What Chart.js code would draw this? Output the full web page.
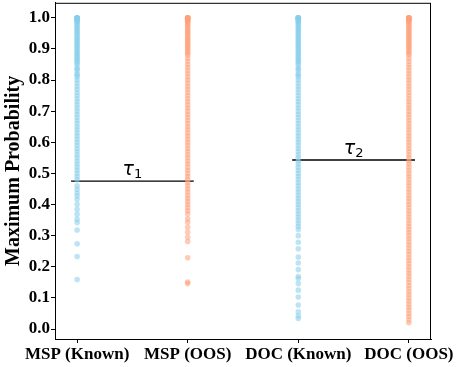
<!DOCTYPE html>
<html>
<head>
<meta charset="utf-8">
<script src="https://cdn.jsdelivr.net/npm/chart.js@4"></script>
<style>
  html, body { margin: 0; padding: 0; background: #fff; }
  #wrap { width: 456px; height: 367px; }
</style>
</head>
<body>
<div id="wrap"><canvas id="chart" width="456" height="367"></canvas></div>
<script>
// categories and tick labels
const categories = ['MSP (Known)', 'MSP (OOS)', 'DOC (Known)', 'DOC (OOS)'];
const yTicks = [0.0, 0.1, 0.2, 0.3, 0.4, 0.5, 0.6, 0.7, 0.8, 0.9, 1.0];

// maximum probability per sample
const mspKnown = [1.0, 1.0, 1.0, 1.0, 0.999, 0.998, 0.997, 0.995, 0.993, 0.99, 0.988, 0.985, 0.98, 0.975,
  0.97, 0.965, 0.96, 0.955, 0.95, 0.945, 0.94, 0.935, 0.93, 0.925, 0.92, 0.915, 0.91, 0.905, 0.90,
  0.895, 0.89, 0.885, 0.88, 0.875, 0.87, 0.865, 0.86, 0.855, 0.85, 0.84, 0.835, 0.83, 0.82, 0.815,
  0.81, 0.80, 0.79, 0.78, 0.77, 0.76, 0.75, 0.74, 0.73, 0.72, 0.71, 0.70, 0.69, 0.68,
  0.67, 0.66, 0.65, 0.64, 0.63, 0.62, 0.61, 0.60, 0.59, 0.58, 0.57, 0.56, 0.55, 0.54, 0.53, 0.52,
  0.51, 0.50, 0.49, 0.48, 0.46, 0.449, 0.438, 0.428, 0.417, 0.401, 0.385, 0.369, 0.353, 0.342,
  0.318, 0.274, 0.233, 0.159];
const mspOos = [1.0, 1.0, 1.0, 1.0, 0.999, 0.998, 0.997, 0.995, 0.993, 0.99, 0.988, 0.985, 0.98, 0.975,
  0.97, 0.965, 0.96, 0.955, 0.95, 0.945, 0.94, 0.935, 0.93, 0.925, 0.92, 0.915, 0.91, 0.905, 0.90,
  0.895, 0.89, 0.885, 0.88, 0.87, 0.86, 0.85, 0.84,
  0.83, 0.82, 0.81, 0.80, 0.79, 0.78, 0.77, 0.76, 0.75, 0.74, 0.73, 0.72, 0.71, 0.70, 0.69, 0.68,
  0.67, 0.66, 0.65, 0.64, 0.63, 0.62, 0.61, 0.60, 0.59, 0.58, 0.57, 0.56, 0.55, 0.54, 0.53, 0.52,
  0.51, 0.50, 0.49, 0.48, 0.47, 0.46, 0.45, 0.44, 0.43, 0.42, 0.41, 0.40, 0.39, 0.38, 0.37, 0.354,
  0.343, 0.327, 0.311, 0.295, 0.281, 0.229, 0.151, 0.146];
const docKnown = [1.0, 1.0, 1.0, 1.0, 0.999, 0.998, 0.997, 0.995, 0.993, 0.99, 0.988, 0.985, 0.98, 0.975,
  0.97, 0.965, 0.96, 0.955, 0.95, 0.945, 0.94, 0.935, 0.93, 0.925, 0.92, 0.915, 0.91, 0.905, 0.90,
  0.895, 0.89, 0.885, 0.88, 0.875, 0.87, 0.865, 0.86, 0.855, 0.85, 0.84, 0.835, 0.83, 0.82, 0.815,
  0.81, 0.80, 0.79, 0.78, 0.77, 0.76, 0.75, 0.74, 0.73, 0.72, 0.71, 0.70, 0.69, 0.68,
  0.67, 0.66, 0.65, 0.64, 0.63, 0.62, 0.61, 0.60, 0.59, 0.58, 0.57, 0.56, 0.55, 0.54, 0.53, 0.52,
  0.51, 0.50, 0.49, 0.48, 0.47, 0.46, 0.45, 0.44, 0.43, 0.42, 0.41, 0.40, 0.39, 0.38, 0.37, 0.36,
  0.35, 0.34, 0.33, 0.32, 0.30, 0.279, 0.258, 0.231, 0.212, 0.191, 0.169, 0.162, 0.146, 0.125,
  0.103, 0.077, 0.055, 0.042, 0.034];
const docOos = [1.0, 1.0, 1.0, 1.0, 0.999, 0.998, 0.997, 0.995, 0.993, 0.99, 0.988, 0.985, 0.98, 0.975,
  0.97, 0.965, 0.96, 0.955, 0.95, 0.945, 0.94, 0.935, 0.93, 0.925, 0.92, 0.915, 0.91, 0.905, 0.90,
  0.895, 0.89, 0.885, 0.88, 0.87, 0.86, 0.85, 0.84,
  0.83, 0.82, 0.81, 0.80, 0.79, 0.78, 0.77, 0.76, 0.75, 0.74, 0.73, 0.72, 0.71, 0.70, 0.69, 0.68,
  0.67, 0.66, 0.65, 0.64, 0.63, 0.62, 0.61, 0.60, 0.59, 0.58, 0.57, 0.56, 0.55, 0.54, 0.53, 0.52,
  0.51, 0.50, 0.49, 0.48, 0.47, 0.46, 0.45, 0.44, 0.43, 0.42, 0.41, 0.40, 0.39, 0.38, 0.37, 0.36,
  0.35, 0.34, 0.33, 0.32, 0.31, 0.30, 0.29, 0.28, 0.27, 0.26, 0.25, 0.24, 0.23, 0.22, 0.21, 0.20,
  0.19, 0.18, 0.17, 0.16, 0.15, 0.14, 0.13, 0.12, 0.11, 0.10, 0.09, 0.08, 0.07, 0.06, 0.05, 0.04,
  0.03, 0.02];

// thresholds: value and the x span of each line
const thresholds = [0.475, 0.543];
const thresholdSpans = [[-0.055, 1.055], [1.945, 3.055]];
const thresholdLabels = ['τ', 'τ'];
const thresholdSubs = ['1', '2'];

const BLUE = 'rgba(135, 206, 235, 0.55)';
const SALMON = 'rgba(255, 160, 122, 0.55)';
const FONT = '"Liberation Serif", "Times New Roman", serif';

function column(values, xi) {
    return values.map(v => ({ x: xi, y: v }));
}

function scatterSet(values, xi, color) {
    return {
        type: 'scatter',
        data: column(values, xi),
        pointRadius: 2.8,
        pointBackgroundColor: color,
        pointBorderWidth: 0,
        pointHoverRadius: 2.8
    };
}

const lineSets = thresholds.map((t, i) => ({
    type: 'line',
    data: thresholdSpans[i].map(x => ({ x: x, y: t })),
    borderColor: '#000',
    borderWidth: 1.3,
    pointRadius: 0,
    fill: false
}));

// box around the plot + tau labels
const boxPlugin = {
    id: 'boxPlugin',
    afterDraw(chart) {
        const { ctx, chartArea, scales } = chart;
        ctx.save();
        ctx.strokeStyle = '#000';
        ctx.lineWidth = 1;
        ctx.strokeRect(chartArea.left + 0.5, chartArea.top + 0.5,
            chartArea.right - chartArea.left - 1, chartArea.bottom - chartArea.top);

        thresholds.forEach((t, i) => {
            const span = thresholdSpans[i];
            const cx = scales.x.getPixelForValue((span[0] + span[1]) / 2);
            const y = scales.y.getPixelForValue(t) - 6;
            ctx.fillStyle = '#000';
            ctx.textBaseline = 'alphabetic';
            ctx.textAlign = 'left';
            ctx.font = 'italic 19px "DejaVu Sans"';
            const w1 = ctx.measureText(thresholdLabels[i]).width;
            ctx.font = '13px "DejaVu Sans"';
            const w2 = ctx.measureText(thresholdSubs[i]).width;
            const x0 = cx - (w1 + w2) / 2;
            ctx.font = 'italic 19px "DejaVu Sans"';
            ctx.fillText(thresholdLabels[i], x0, y);
            ctx.font = '13px "DejaVu Sans"';
            ctx.fillText(thresholdSubs[i], x0 + w1, y + 3);
        });
        ctx.restore();
    }
};

new Chart(document.getElementById('chart').getContext('2d'), {
    data: {
        datasets: [
            scatterSet(mspKnown, 0, BLUE),
            scatterSet(mspOos, 1, SALMON),
            scatterSet(docKnown, 2, BLUE),
            scatterSet(docOos, 3, SALMON),
            ...lineSets
        ]
    },
    options: {
        responsive: false,
        animation: false,
        layout: { padding: { top: 1, right: 25, left: 0, bottom: 0 } },
        plugins: {
            legend: { display: false },
            tooltip: { enabled: false }
        },
        scales: {
            x: {
                type: 'linear',
                min: -0.2,
                max: 3.2,
                afterBuildTicks: (scale) => {
                    scale.ticks = categories.map((c, i) => ({ value: i }));
                },
                afterFit: (scale) => { scale.height = 28; },
                ticks: {
                    callback: (v) => categories[v],
                    color: '#000',
                    padding: 1,
                    maxRotation: 0,
                    autoSkip: false,
                    font: { family: FONT, size: 17, weight: 'bold' }
                },
                grid: {
                    drawOnChartArea: false,
                    drawTicks: true,
                    tickLength: 4,
                    tickColor: '#000'
                },
                border: { display: true, color: '#000', width: 1 }
            },
            y: {
                min: -0.032,
                max: 1.048,
                afterBuildTicks: (scale) => {
                    scale.ticks = yTicks.map(v => ({ value: v }));
                },
                afterFit: (scale) => {
                    scale.width = 55;
                    scale.paddingTop = 0;
                    scale.paddingBottom = 0;
                },
                ticks: {
                    callback: (v) => v.toFixed(1),
                    color: '#000',
                    padding: 1,
                    font: { family: FONT, size: 17, weight: 'bold' }
                },
                grid: {
                    drawOnChartArea: false,
                    drawTicks: true,
                    tickLength: 4,
                    tickColor: '#000'
                },
                border: { display: true, color: '#000', width: 1 },
                title: {
                    display: true,
                    text: 'Maximum Probability',
                    color: '#000',
                    padding: { top: 2, bottom: 0 },
                    font: { family: FONT, size: 20, weight: 'bold' }
                }
            }
        }
    },
    plugins: [boxPlugin]
});
</script>
</body>
</html>
